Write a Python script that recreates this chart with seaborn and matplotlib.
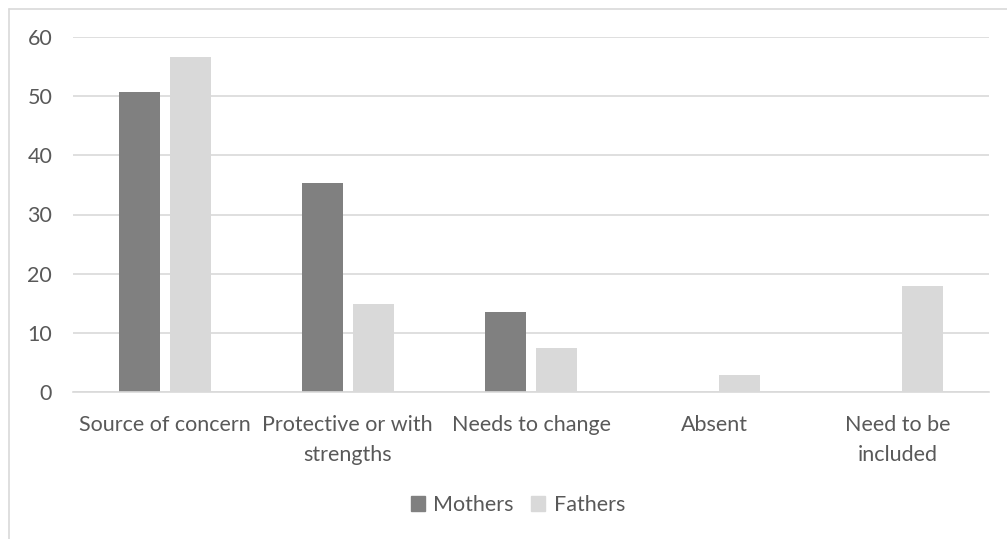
import numpy as np
import pandas as pd
import seaborn as sns
import matplotlib.pyplot as plt
from matplotlib.lines import Line2D

# ── Data
categories = ["Source of concern", "Protective or with\nstrengths", "Needs to change",
              "Absent", "Need to be\nincluded"]
mothers = [50.7, 35.4, 13.6, 0, 0]
fathers = [56.6, 14.8, 7.4, 2.8, 17.9]
series = ["Mothers", "Fathers"]
colors = {"Mothers": "#808080", "Fathers": "#d9d9d9"}

df = pd.DataFrame({
    "category": categories * 2,
    "value": mothers + fathers,
    "parent": ["Mothers"] * len(categories) + ["Fathers"] * len(categories),
})

# ── Style
sns.set_style("white")
plt.rcParams["font.family"] = ["Lato", "DejaVu Sans"]
text_color = "#595959"
grid_color = "#d9d9d9"
fs = 15.5

W, H = 1007, 539
fig = plt.figure(figsize=(W / 100, H / 100), dpi=100)
ax = fig.add_axes([73 / W, 1 - 392 / H, (989 - 73) / W, (392 - 37) / H])

sns.barplot(data=df, x="category", y="value", hue="parent", hue_order=series,
            palette=colors, width=0.557, gap=0.196, ax=ax, legend=False,
            saturation=1, edgecolor="none")

ax.set_ylim(0, 60)
ax.set_xlim(-0.5, len(categories) - 0.5)
ax.set_yticks(np.arange(0, 61, 10))
ax.yaxis.grid(True, color=grid_color, linewidth=1.2)
ax.set_axisbelow(True)
for s in ["top", "right", "left"]:
    ax.spines[s].set_visible(False)
ax.spines["bottom"].set_color(grid_color)
ax.spines["bottom"].set_linewidth(1.2)
ax.set_xlabel("")
ax.set_ylabel("")
ax.tick_params(axis="y", length=0, pad=15, labelsize=fs, labelcolor=text_color)
ax.tick_params(axis="x", length=0, pad=16.5, labelsize=fs, labelcolor=text_color)
for lab in ax.get_xticklabels():
    lab.set_linespacing(1.65)
    lab.set_verticalalignment("top")

# ── Legend
handles = [plt.Rectangle((0, 0), 1, 1, color=colors[s]) for s in series]
fig.legend(handles, series, loc="center", bbox_to_anchor=(518 / W, 1 - 505 / H),
           ncol=2, frameon=False, fontsize=fs, labelcolor=text_color,
           handlelength=0.65, handleheight=0.65, handletextpad=0.4, columnspacing=0.8)

# ── Outer chart border (cropped at right and bottom)
bx, by = 8.5 / W, 1 - 8.5 / H
fig.add_artist(Line2D([bx, 1], [by, by], transform=fig.transFigure, color=grid_color, linewidth=1.2))
fig.add_artist(Line2D([bx, bx], [0, by], transform=fig.transFigure, color=grid_color, linewidth=1.2))

plt.savefig("out.png", dpi=100)
